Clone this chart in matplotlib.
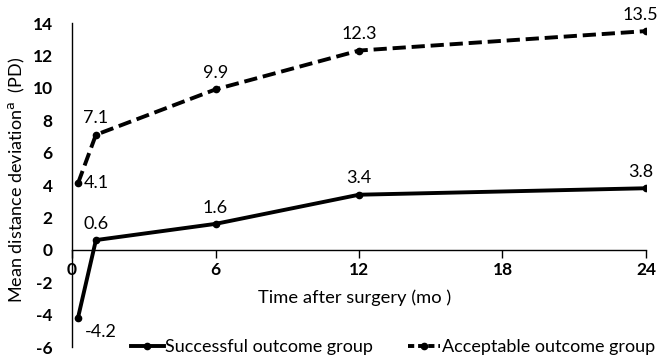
import matplotlib
matplotlib.use("Agg")
import matplotlib.pyplot as plt
from matplotlib.lines import Line2D

months = [0.25, 1, 6, 12, 24]
successful = [-4.2, 0.6, 1.6, 3.4, 3.8]
acceptable = [4.1, 7.1, 9.9, 12.3, 13.5]
xticks = [0, 6, 12, 18, 24]
yticks = [-6, -4, -2, 0, 2, 4, 6, 8, 10, 12, 14]
series_names = ['Successful outcome group', 'Acceptable outcome group']

plt.rcParams['font.family'] = ['Lato', 'DejaVu Sans']

fig = plt.figure(figsize=(6.62, 3.6), dpi=100)
ax = fig.add_axes([72/662, 13/360, (646-72)/662, (347-23)/360])

ax.plot(months, successful, color='black', lw=2.8, marker='o', ms=4.5,
        label=series_names[0])
ax.plot(months, acceptable, color='black', lw=2.8, ls=(0, (3.4, 1.5)), marker='o', ms=4.5,
        label=series_names[1])

ax.set_xlim(0, 24)
ax.set_ylim(-6, 14)
ax.spines['top'].set_visible(False)
ax.spines['right'].set_visible(False)
ax.spines['bottom'].set_position(('data', 0))
ax.spines['left'].set_linewidth(1.0)
ax.spines['bottom'].set_linewidth(1.0)
ax.set_xticks(xticks)
ax.set_xticklabels([str(t) for t in xticks], fontsize=12.5, fontweight='bold')
ax.set_yticks(yticks)
ax.set_yticklabels([str(t) for t in yticks], fontsize=12.5, fontweight='bold')
ax.tick_params(axis='y', length=0, pad=14)
ax.tick_params(axis='x', direction='out', length=6, width=1.0, pad=3)

# annotations
offsets_s = [(5, -10, 'left'), (0, 6, 'center'), (0, 6, 'center'), (0, 6, 'center'), (-4, 6, 'center')]
offsets_a = [(4, 0, 'left'), (0, 6, 'center'), (0, 6, 'center'), (0, 6, 'center'), (-4, 6, 'center')]
for x, y, (dx, dy, ha) in zip(months, successful, offsets_s):
    ax.annotate(f"{y}", (x, y), xytext=(dx, dy), textcoords='offset points',
                ha=ha, va='center' if dy <= 0 else 'bottom', fontsize=13)
for x, y, (dx, dy, ha) in zip(months, acceptable, offsets_a):
    ax.annotate(f"{y}", (x, y), xytext=(dx, dy), textcoords='offset points',
                ha=ha, va='center' if dy <= 0 else 'bottom', fontsize=13)

ax.text(11.8, -2.95, 'Time after surgery (mo )', ha='center', va='center', fontsize=13.2)
fig.text(17/662, 0.5, 'Mean distance deviation$^{\\mathrm{a}}$  (PD)', rotation=90,
         ha='center', va='center', fontsize=13)

handles = [
    Line2D([], [], color='black', lw=2.8, marker='o', ms=4.5),
    Line2D([], [], color='black', lw=2.8, ls=(0, (1.6, 1.0)), marker='o', ms=4.5),
]
ax.legend(handles, series_names, loc='center', bbox_to_anchor=(393/662, 13/360),
          bbox_transform=fig.transFigure,
          ncol=2, frameon=False, fontsize=13, handlelength=1.8, columnspacing=1.9,
          handletextpad=0.1, borderaxespad=0)

fig.savefig('out.png', dpi=100)
